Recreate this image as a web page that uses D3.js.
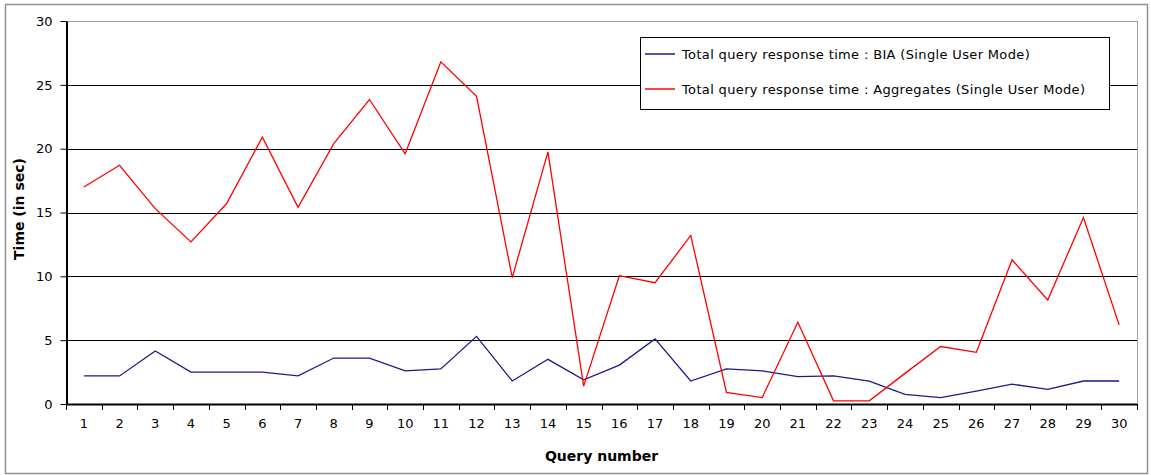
<!DOCTYPE html>
<html><head><meta charset="utf-8">
<script src="https://cdn.jsdelivr.net/npm/d3@7"></script>
<style>body{margin:0;background:#fff}svg{display:block}text{font-family:"DejaVu Sans",Verdana,sans-serif}</style>
</head><body><svg id="c" width="1151" height="475"></svg>
<script>
const categories = d3.range(1, 31).map(String);
const biaValues = [2.2,2.2,4.15,2.5,2.5,2.5,2.2,3.6,3.6,2.6,2.75,5.3,1.8,3.5,1.9,3.05,5.1,1.8,2.75,2.6,2.15,2.2,1.8,0.75,0.5,1.0,1.55,1.15,1.8,1.8];
const aggValues = [17.0,18.7,15.3,12.7,15.7,20.9,15.4,20.4,23.85,19.6,26.8,24.1,9.9,19.75,1.4,10.05,9.5,13.2,0.9,0.5,6.4,0.25,0.25,2.4,4.5,4.05,11.3,8.15,14.6,6.2];
const yTicks = [0,5,10,15,20,25,30];
const seriesNames = ["Total query response time : BIA (Single User Mode)","Total query response time : Aggregates (Single User Mode)"];
const seriesColors = ["#1a1a8c","#ff0000"];

const svg = d3.select("#c");
const L = 66, R = 1137, T = 21, B = 404;
svg.append("rect").attr("x",5.5).attr("y",4.5).attr("width",1142).attr("height",469).attr("fill","#fff").attr("stroke","#909090").attr("stroke-width",1.5);

const x = d3.scaleBand().domain(categories).range([L, R]).padding(0);
const y = d3.scaleLinear().domain([0,30]).range([B, T]);

svg.append("rect").attr("x",L+0.5).attr("y",T+0.5).attr("width",R-L).attr("height",B-T).attr("fill","none").attr("stroke","#a0a0a0");
svg.append("g").selectAll("line").data(yTicks.filter(d=>d>0&&d<30)).join("line")
  .attr("x1",L).attr("x2",R).attr("y1",d=>Math.round(y(d))+0.5).attr("y2",d=>Math.round(y(d))+0.5)
  .attr("stroke","#000").attr("stroke-width",1);

const yAxis = svg.append("g").attr("transform",`translate(${L+0.5},0)`)
  .call(d3.axisLeft(y).tickValues(yTicks).tickSize(6).tickSizeOuter(0).tickPadding(8));
yAxis.select(".domain").attr("stroke","#000").attr("stroke-width",2);
yAxis.selectAll("text").attr("font-size",13).attr("fill","#000");
const xAxis = svg.append("g").attr("transform",`translate(0,${B+0.5})`)
  .call(d3.axisBottom(x).tickSize(0).tickPadding(14));
xAxis.select(".domain").attr("stroke","#000").attr("stroke-width",2).attr("d",`M${L},0H${R}`);
xAxis.selectAll("text").attr("font-size",13).attr("fill","#000");
svg.append("g").selectAll("line").data(categories.concat(["end"])).join("line")
  .attr("x1",(d,i)=>Math.round(i<30?x(d):R)+0.5).attr("x2",(d,i)=>Math.round(i<30?x(d):R)+0.5)
  .attr("y1",B).attr("y2",B+6).attr("stroke","#000").attr("stroke-width",1);

const line = d3.line().x((d,i)=>x(categories[i])+x.bandwidth()/2).y(d=>y(d));
[biaValues, aggValues].forEach((vals,k)=>{
  svg.append("path").datum(vals).attr("d",line).attr("fill","none").attr("stroke",seriesColors[k]).attr("stroke-width",1.3);
});

svg.append("text").attr("transform",`translate(24,209) rotate(-90)`).attr("text-anchor","middle")
  .attr("font-size",14).attr("font-weight","bold").text("Time (in sec)");
svg.append("text").attr("x",(L+R)/2).attr("y",461).attr("text-anchor","middle")
  .attr("font-size",14).attr("font-weight","bold").text("Query number");

const lg = svg.append("g");
lg.append("rect").attr("x",640.5).attr("y",37.5).attr("width",469).attr("height",72).attr("fill","#fff").attr("stroke","#000").attr("stroke-width",1);
seriesNames.forEach((n,k)=>{
  const yy = [54,89][k];
  lg.append("line").attr("x1",645).attr("x2",675).attr("y1",yy).attr("y2",yy).attr("stroke",seriesColors[k]).attr("stroke-width",1.5);
  lg.append("text").attr("x",682).attr("y",yy+4.5).attr("font-size",13).attr("letter-spacing",0.35).text(n);
});
</script></body></html>
